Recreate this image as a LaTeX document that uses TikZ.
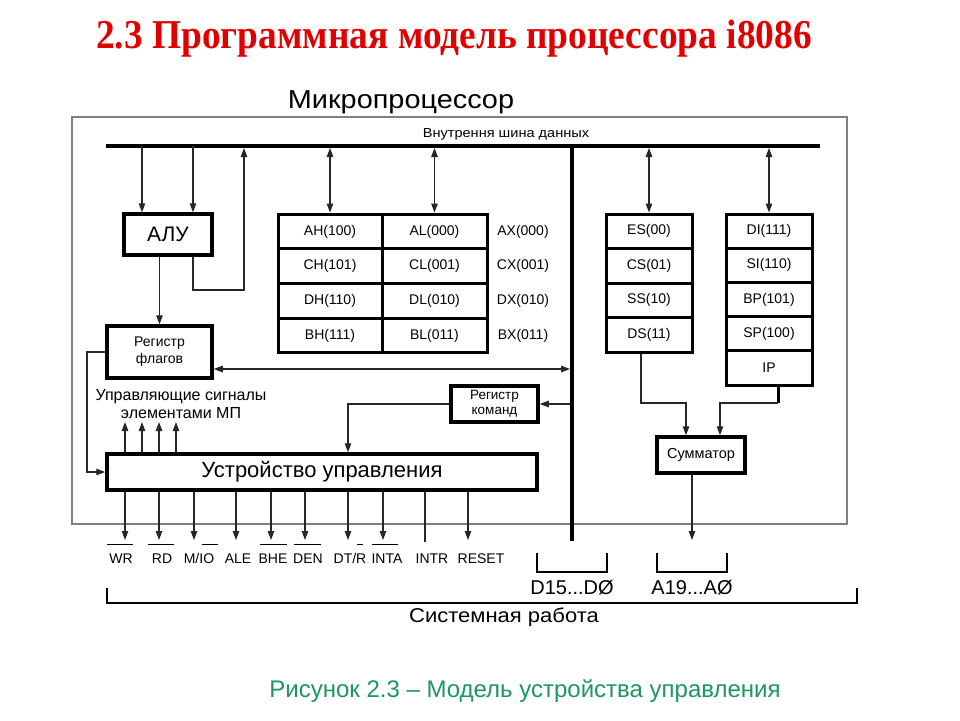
\documentclass[tikz,border=0pt]{standalone}
\usepackage{fontspec}
\setmainfont{Liberation Sans}
\newfontfamily\titlefont{Liberation Serif}
\usetikzlibrary{arrows.meta}
\definecolor{titlered}{RGB}{225,0,0}
\definecolor{capgreen}{RGB}{30,150,95}
\newcommand{\fs}[1]{\fontsize{#1}{#1}\selectfont}
\tikzset{
  >={Triangle[length=9pt,width=6.5pt]},
  conn/.style={line width=1.1pt, draw=black!85},
  arr/.style={conn,->},
  darr/.style={conn,<->},
  box/.style={draw, line width=3.5pt, inner sep=0pt, align=center},
  cell/.style={draw, line width=3pt, inner sep=0pt, font=\fs{14}},
  lab/.style={inner sep=0pt, font=\fs{14}},
  sig/.style={inner sep=0pt, anchor=base, font=\fs{14}},
  bar/.style={line width=1pt},
  brk/.style={line width=2pt}
}
\begin{document}
\begin{tikzpicture}[x=1pt,y=-1pt]
\useasboundingbox (0,0) rectangle (960,720);
\fill[white] (0,0) rectangle (960,720);

% title
\node[anchor=base, inner sep=0pt, text=titlered, font=\titlefont\bfseries\fs{41}] (title) at (454,48) {\scalebox{0.912}[1]{2.3 Программная модель процессора i8086}};
\node[anchor=base, inner sep=0pt, font=\fs{26}] (mp) at (401,108) {\scalebox{1.11}[1]{Микропроцессор}};
\draw[black!50, line width=1.3pt] (72,117) rectangle (847,524);
\node[anchor=base, inner sep=0pt, font=\fs{13}] (busname) at (506,137) {\scalebox{1.12}[1]{Внутрення шина данных}};

% buses
\coordinate (busL) at (106,146);
\coordinate (busR) at (820,146);
\draw[line width=4pt] (busL) -- (busR);
\coordinate (vbT) at (572,146);
\coordinate (vbB) at (572,541);
\draw[line width=4pt] (vbT) -- (vbB);

% ALU and flags
\node[box, minimum width=88pt, minimum height=41pt, font=\fs{21}] (alu) at (168,234.5) {АЛУ};
\node[box, minimum width=105pt, minimum height=52pt, font=\fs{14}] (flags) at (159.5,352) {Регистр\\[3pt]флагов};
\node[box, minimum width=87pt, minimum height=36pt, font=\fs{13.5}] (regcmd) at (494.5,404) {Регистр\\[1.5pt]команд};
\node[box, minimum width=430pt, minimum height=36pt, font=\fs{22}] (cu) at (322,472) {Устройство управления};
\node[box, minimum width=88pt, minimum height=36pt, font=\fs{14.5}] (sum) at (701,455) {Сумматор};

% general registers
\foreach \n/\h/\l/\x/\y in {a/AH(100)/AL(000)/AX(000)/231.4, c/CH(101)/CL(001)/CX(001)/266.1, d/DH(110)/DL(010)/DX(010)/300.9, b/BH(111)/BL(011)/BX(011)/335.6}{
  \node[cell, minimum width=104pt, minimum height=34.75pt] (\n h) at (330,\y) {\h};
  \node[cell, minimum width=105pt, minimum height=34.75pt] (\n l) at (434.5,\y) {\l};
  \node[lab] (\n x) at (523,\y) {\x};
}
% segment registers
\foreach \n/\t/\y in {es/ES(00)/231.25, cs/CS(01)/265.75, ss/SS(10)/300.25, ds/DS(11)/334.75}{
  \node[cell, minimum width=86pt, minimum height=34.5pt] (\n) at (649,\y) {\t};
}
% index registers
\foreach \n/\t/\y in {di/DI(111)/231.1, si/SI(110)/265.3, bp/BP(101)/299.5, sp/SP(100)/333.7, ip/IP/367.9}{
  \node[cell, minimum width=86pt, minimum height=34.2pt] (\n) at (769,\y) {\t};
}

% bus taps
\coordinate (t1) at (142,146);
\coordinate (t2) at (193,146);
\coordinate (t3) at (244,146);
\coordinate (c1) at (244,290);
\draw[arr] (t1) -- (t1 |- alu.north);
\draw[arr] (t2) -- (t2 |- alu.north);
\draw[arr, shorten >=2pt] (t2 |- alu.south) |- (c1) -- (t3);
\draw[darr, shorten <=2pt] (ah.north |- busL) -- (ah.north);
\draw[darr, shorten <=2pt] (al.north |- busL) -- (al.north);
\draw[darr, shorten <=2pt] (es.north |- busL) -- (es.north);
\draw[darr, shorten <=2pt] (di.north |- busL) -- (di.north);

% ALU -> flags
\draw[arr] (flags.north |- alu.south) -- (flags.north);
% flags <-> vertical bus
\coordinate (f1) at (572,369);
\draw[darr, shorten <=2pt] (f1) -- (f1 -| flags.east);
% flags -> CU
\coordinate (c2) at (87,472);
\draw[arr] (flags.west) -| (c2) -- (cu.west);
% bus -> command register -> CU
\coordinate (f2) at (572,404);
\coordinate (c3) at (348,404);
\draw[arr, shorten <=2pt] (f2) -- (regcmd.east);
\draw[arr] (regcmd.west) -- (c3) -- (c3 |- cu.north);

% control signals up
\node[anchor=base, inner sep=0pt, font=\fs{16}] (ctrl1) at (181,400) {Управляющие сигналы};
\node[anchor=base, inner sep=0pt, font=\fs{16}] (ctrl2) at (181,418) {элементами МП};
\foreach \x/\n in {125/1,142/2,159/3,176/4}{
  \coordinate (u\n) at (\x,422);
  \draw[arr] (u\n |- cu.north) -- (u\n);
}

% output signals
\foreach \x/\n in {125/wr,159/rd,194/mio,236/ale,271/bhe,305/den,348/dtr,383/inta,468/reset}{
  \coordinate (s\n) at (\x,540);
  \draw[arr] (s\n |- cu.south) -- (s\n);
}
\coordinate (sintr) at (425,542);
\draw[conn] (sintr |- cu.south) -- (sintr);

\node[sig] (lwr) at (121,563) {WR};
\node[sig] (lrd) at (162,563) {RD};
\node[sig] (lmio) at (199,563) {M/IO};
\node[sig] (lale) at (238,563) {ALE};
\node[sig] (lbhe) at (273,563) {BHE};
\node[sig] (lden) at (308,563) {DEN};
\node[sig] (ldtr) at (350,563) {DT/R};
\node[sig] (linta) at (387,563) {INTA};
\node[sig] (lintr) at (432,563) {INTR};
\node[sig] (lreset) at (481,563) {RESET};
\draw[bar] (107,544) -- (133,544);
\draw[bar] (148,544) -- (174,544);
\draw[bar] (202,544) -- (218,544);
\draw[bar] (260,544) -- (287,544);
\draw[bar] (294,544) -- (321,544);
\draw[bar] (357,544) -- (363,544);
\draw[bar] (372,544) -- (398,544);

% address path
\coordinate (dsb) at (641,403);
\coordinate (s1) at (686,403);
\draw[arr] (dsb |- ds.south) -- (dsb) -| (s1 |- sum.north);
\coordinate (ipb) at (778,403);
\coordinate (s2) at (720,403);
\draw[line width=3pt] (ipb |- ip.south) -- (ipb);
\draw[arr] (ipb) -- (s2) -- (s2 |- sum.north);
\coordinate (a0) at (692,540);
\draw[arr] (a0 |- sum.south) -- (a0);

% brackets
\draw[brk] (537,553) -- (537,572) -- (607,572) -- (607,553);
\draw[brk] (657,553) -- (657,572) -- (727,572) -- (727,553);
\node[anchor=base, inner sep=0pt, font=\fs{20}] (dlab) at (572,594) {D15...DØ};
\node[anchor=base, inner sep=0pt, font=\fs{20}] (alab) at (692,594) {A19...AØ};
\draw[brk] (107,588) -- (107,603) -- (857,603) -- (857,588);
\node[anchor=base, inner sep=0pt, font=\fs{20}] (sys) at (504,622) {\scalebox{1.1}[1]{Системная работа}};

% caption
\node[anchor=base, inner sep=0pt, text=capgreen, font=\fs{24}] (cap) at (525,697) {Рисунок 2.3 – Модель устройства управления};
\end{tikzpicture}
\end{document}
